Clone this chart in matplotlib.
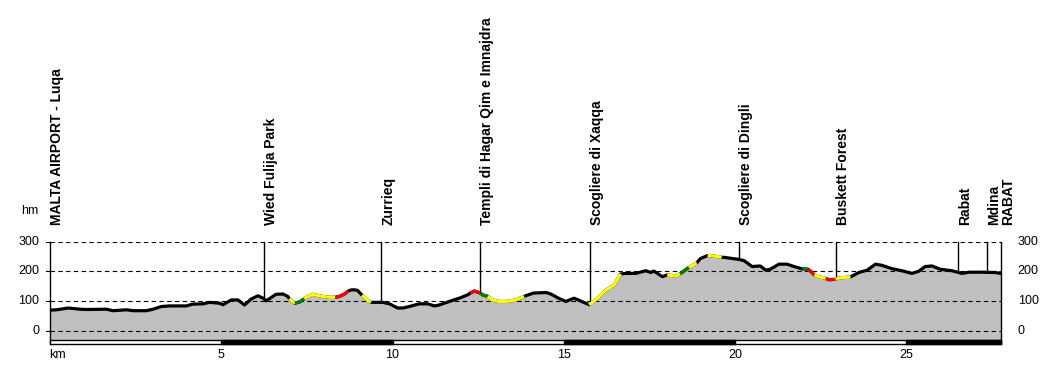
import numpy as np
import matplotlib
matplotlib.use("Agg")
import matplotlib.pyplot as plt
from matplotlib.patches import Rectangle

plt.rcParams['font.family'] = ['Liberation Sans', 'DejaVu Sans']

# elevation profile (km, m)
dist_km = [0.00, 0.19, 0.53, 0.87, 1.06, 1.65, 1.84, 2.23, 2.43, 2.81, 3.01, 3.25, 3.49, 3.98,
           4.17, 4.47, 4.66, 4.95, 5.05, 5.29, 5.49, 5.68, 5.87, 6.07, 6.22, 6.31, 6.60, 6.80,
           6.94, 6.99, 7.09, 7.15, 7.30, 7.42, 7.48, 7.67, 7.82, 7.96, 8.15, 8.33, 8.45, 8.60,
           8.71, 8.80, 8.89, 8.98, 9.11, 9.28, 9.37, 9.71, 9.91, 10.15, 10.30, 10.49, 10.78,
           11.03, 11.22, 11.36, 11.66, 11.95, 12.19, 12.27, 12.39, 12.56, 12.63, 12.78, 12.92,
           13.11, 13.31, 13.60, 13.84, 14.11, 14.48, 14.62, 14.86, 15.06, 15.30, 15.50, 15.74,
           15.93, 16.22, 16.47, 16.66, 16.81, 17.10, 17.39, 17.54, 17.63, 17.88, 18.02, 18.27,
           18.40, 18.65, 18.88, 18.99, 19.20, 19.35, 19.61, 19.67, 19.92, 20.11, 20.26, 20.50,
           20.74, 20.89, 21.03, 21.28, 21.52, 21.67, 21.96, 22.13, 22.25, 22.31, 22.45, 22.65,
           22.75, 22.93, 23.05, 23.37, 23.61, 23.86, 24.10, 24.29, 24.58, 24.87, 25.16, 25.36,
           25.55, 25.75, 25.99, 26.33, 26.63, 26.82, 27.21, 27.60, 27.75]
elev_m = [70, 71, 77, 73, 72, 73, 68, 71, 68, 68, 73, 82, 84, 84,
          90, 91, 96, 93, 88, 104, 104, 87, 107, 118, 110, 101, 123, 124,
          116, 108, 97, 93, 98, 108, 113, 123, 119, 116, 113, 113, 116, 124,
          134, 138, 138, 136, 120, 102, 96, 96, 91, 77, 77, 82, 91,
          91, 84, 87, 99, 110, 121, 127, 134, 127, 121, 116, 104,
          99, 99, 104, 116, 127, 129, 124, 109, 99, 110, 100, 88,
          104, 136, 154, 191, 193, 193, 202, 196, 201, 182, 188, 184,
          192, 213, 228, 243, 253, 252, 247, 247, 243, 240, 236, 216,
          218, 204, 207, 224, 224, 218, 208, 207, 196, 188, 182, 176,
          172, 173, 178, 181, 196, 204, 224, 220, 209, 202, 193, 200,
          216, 218, 207, 202, 193, 197, 197, 196, 193]

# gradient highlights
seg_start = [6.99, 7.15, 7.42, 8.33, 9.11, 12.27, 12.56, 12.78, 15.74, 18.02, 18.40, 18.65,
             19.20, 21.96, 22.13, 22.31, 22.65, 22.93]
seg_end = [7.15, 7.42, 8.33, 8.71, 9.37, 12.56, 12.78, 13.84, 16.66, 18.40, 18.65, 18.88,
           19.61, 22.13, 22.31, 22.65, 22.93, 23.37]
seg_color = ['yellow', 'green', 'yellow', 'red', 'yellow', 'red', 'green', 'yellow', 'yellow',
             'yellow', 'green', 'yellow', 'yellow', 'green', 'red', 'yellow', 'red', 'yellow']

# waypoints
place_names = ["MALTA AIRPORT - Luqa", "Wied Fulija Park", "Zurrieq",
               "Templi di Hagar Qim e Imnajdra", "Scogliere di Xaqqa", "Scogliere di Dingli",
               "Buskett Forest", "Rabat", "Mdina\nRABAT"]
place_km = [0.0, 6.26, 9.67, 12.56, 15.77, 20.12, 22.95, 26.51, 27.37]

y_ticks = [0, 100, 200, 300]
x_ticks = [5, 10, 15, 20, 25]

dist = np.array(dist_km)
elev = np.array(elev_m)
total = dist[-1]

fig = plt.figure(figsize=(10.5, 3.68), dpi=100)
ax = fig.add_axes([50 / 1050, (368 - 344.1) / 368, 950.5 / 1050, 102.6 / 368])
ax.set_xlim(0, total)
ax.set_ylim(-44, 300)
ax.axis('off')

ax.fill_between(dist, elev, -30, color='#c0c0c0', lw=0, zorder=1)

for y in y_ticks:
    ax.plot([0, total], [y, y], color='black', lw=0.8, ls=(0, (4, 3)), zorder=2)
    ax.plot([-0.12, 0], [y, y], color='black', lw=0.8, clip_on=False, zorder=2)
    ax.text(-0.32, y, str(y), ha='right', va='center', fontsize=9, clip_on=False)
    ax.text(total + 0.5, y, str(y), ha='left', va='center', fontsize=9, clip_on=False)

# side lines
ax.plot([0, 0], [-44, 300], color='black', lw=1, clip_on=False, zorder=3)
ax.plot([total, total], [-44, 300], color='black', lw=1, clip_on=False, zorder=3)

# waypoint lines and labels
for name, k in zip(place_names, place_km):
    if k > 0:
        ax.plot([k, k], [np.interp(k, dist, elev), 300], color='black', lw=1, zorder=3,
                clip_on=False)
    ax.text(k, 355, name, rotation=90, ha='left', va='bottom', fontsize=10,
            fontweight='bold', clip_on=False, linespacing=1.0)

ax.plot(dist, elev, color='black', lw=2.3, zorder=4, solid_joinstyle='round')
for s, e, c in zip(seg_start, seg_end, seg_color):
    m = (dist >= s) & (dist <= e)
    ax.plot(dist[m], elev[m], color=c, lw=2.3, zorder=5, solid_capstyle='butt')

# distance scale bar
ax.add_patch(Rectangle((0, -44), total, 14, facecolor='white', edgecolor='black', lw=1,
                       zorder=3, clip_on=False))
for k in range(5, int(total) + 1, 10):
    ax.add_patch(Rectangle((k, -44), min(5, total - k), 14, facecolor='black',
                           edgecolor='black', lw=1, zorder=3, clip_on=False))

for k in x_ticks:
    ax.text(k, -80, str(k), ha='center', va='center', fontsize=9, clip_on=False)
ax.text(-0.03, -80, "km", ha='left', va='center', fontsize=9, clip_on=False)
ax.text(-0.85, 402, "hm", ha='left', va='center', fontsize=9, clip_on=False)

fig.savefig("out.png", dpi=100)
